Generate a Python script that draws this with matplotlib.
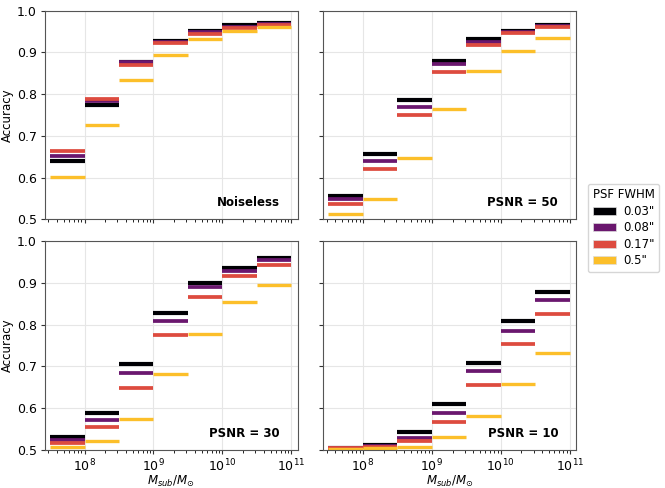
import numpy as np
import matplotlib
matplotlib.use('Agg')
import matplotlib.pyplot as plt
from matplotlib.patches import Patch

# bin edges in log10(M_sub / M_sun)
log_edges = [7.5, 8.0, 8.5, 9.0, 9.5, 10.0, 10.5, 11.0]

fwhm_labels = ['0.03"', '0.08"', '0.17"', '0.5"']
colors = ['#000004', '#6a176e', '#dd4b3f', '#fcbf2a']

noiseless = [
    [0.641, 0.774, 0.876, 0.928, 0.951, 0.965, 0.970],
    [0.651, 0.784, 0.877, 0.925, 0.949, 0.962, 0.969],
    [0.664, 0.789, 0.871, 0.922, 0.945, 0.959, 0.966],
    [0.601, 0.726, 0.833, 0.893, 0.932, 0.952, 0.962],
]
psnr50 = [
    [0.555, 0.656, 0.786, 0.880, 0.932, 0.951, 0.966],
    [0.548, 0.640, 0.769, 0.872, 0.926, 0.949, 0.964],
    [0.538, 0.620, 0.750, 0.854, 0.919, 0.946, 0.962],
    [0.514, 0.550, 0.646, 0.764, 0.856, 0.904, 0.934],
]
psnr30 = [
    [0.530, 0.589, 0.707, 0.827, 0.900, 0.935, 0.959],
    [0.523, 0.571, 0.684, 0.809, 0.890, 0.929, 0.954],
    [0.516, 0.554, 0.648, 0.776, 0.867, 0.916, 0.944],
    [0.508, 0.521, 0.575, 0.682, 0.779, 0.855, 0.896],
]
psnr10 = [
    [0.505, 0.513, 0.542, 0.609, 0.708, 0.808, 0.879],
    [0.504, 0.510, 0.529, 0.589, 0.690, 0.785, 0.859],
    [0.505, 0.507, 0.522, 0.568, 0.655, 0.754, 0.826],
    [0.502, 0.505, 0.507, 0.530, 0.581, 0.659, 0.733],
]

panels = [('Noiseless', noiseless), ('PSNR = 50', psnr50),
          ('PSNR = 30', psnr30), ('PSNR = 10', psnr10)]
widths = [3.0, 2.7, 2.7, 2.4]

fig, axes = plt.subplots(2, 2, figsize=(6.65, 4.88), dpi=100,
                         sharex=True, sharey=True)
fig.subplots_adjust(left=0.067, right=0.866, top=0.978, bottom=0.078,
                    wspace=0.1, hspace=0.105)

edges = 10.0 ** np.array(log_edges)

for ax, (label, data) in zip(axes.flat, panels):
    for vals, c, lw in zip(data, colors, widths):
        ax.hlines(vals, edges[:-1], edges[1:], colors=c, lw=lw)
    ax.set_xscale('log')
    ax.set_xlim(10 ** 7.42, 10 ** 11.09)
    ax.set_ylim(0.5, 1.0)
    ax.grid(True, which='major', color='#e6e6e6', lw=0.8)
    ax.set_axisbelow(True)
    ax.text(0.93, 0.08, label, transform=ax.transAxes, ha='right',
            va='center', fontsize=8.5, fontweight='bold')
    for s in ax.spines.values():
        s.set_color('#555555')
    ax.tick_params(labelsize=9, colors='#333333', labelcolor='black')
    ax.tick_params(which='major', length=3, pad=2.5)
    ax.tick_params(which='minor', length=1.8)
    ax.set_yticks([0.5, 0.6, 0.7, 0.8, 0.9, 1.0])

for ax in axes[:, 0]:
    ax.set_ylabel('Accuracy', fontsize=8.5, labelpad=2)
for ax in axes[1, :]:
    ax.set_xlabel(r'$M_{sub}/M_{\odot}$', fontsize=8.5, labelpad=0)

handles = [Patch(facecolor=c, edgecolor='#dddddd', lw=0.5) for c in colors]
fig.legend(handles, fwhm_labels, title='PSF FWHM', loc='center left',
           bbox_to_anchor=(0.875, 0.533), fontsize=8.5, title_fontsize=8.5,
           handlelength=2.0, handleheight=0.7, labelspacing=0.3,
           handletextpad=0.6, borderpad=0.4)

fig.savefig('out.png', dpi=100)
